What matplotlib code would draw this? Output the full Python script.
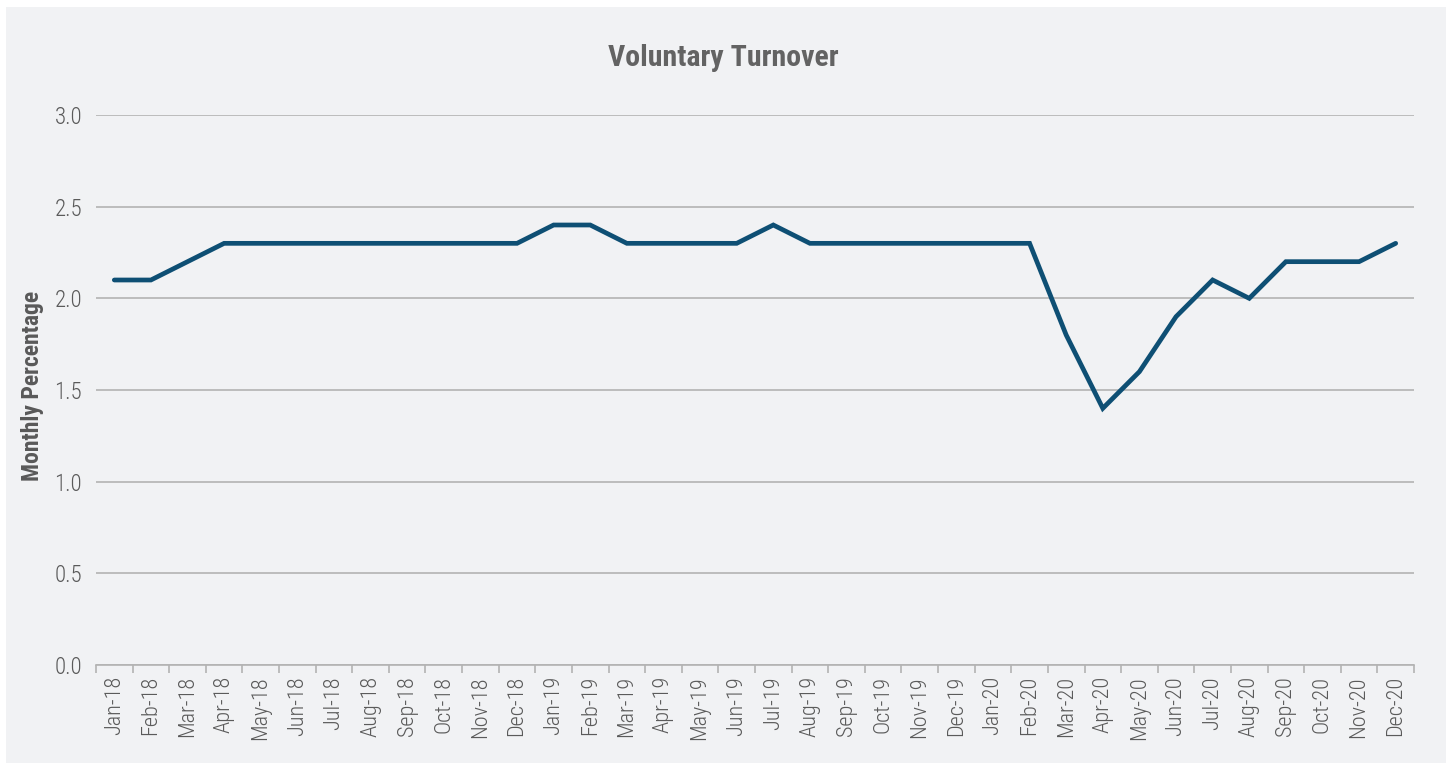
import matplotlib
matplotlib.use("Agg")
import matplotlib.pyplot as plt
from matplotlib.patches import Rectangle

months = ["Jan-18", "Feb-18", "Mar-18", "Apr-18", "May-18", "Jun-18", "Jul-18", "Aug-18",
          "Sep-18", "Oct-18", "Nov-18", "Dec-18",
          "Jan-19", "Feb-19", "Mar-19", "Apr-19", "May-19", "Jun-19", "Jul-19", "Aug-19",
          "Sep-19", "Oct-19", "Nov-19", "Dec-19",
          "Jan-20", "Feb-20", "Mar-20", "Apr-20", "May-20", "Jun-20", "Jul-20", "Aug-20",
          "Sep-20", "Oct-20", "Nov-20", "Dec-20"]
turnover = [2.1, 2.1, 2.2, 2.3, 2.3, 2.3, 2.3, 2.3, 2.3, 2.3, 2.3, 2.3,
            2.4, 2.4, 2.3, 2.3, 2.3, 2.3, 2.4, 2.3, 2.3, 2.3, 2.3, 2.3,
            2.3, 2.3, 1.8, 1.4, 1.6, 1.9, 2.1, 2.0, 2.2, 2.2, 2.2, 2.3]
yticks = [0.0, 0.5, 1.0, 1.5, 2.0, 2.5, 3.0]

plt.rcParams['font.family'] = ['Roboto Condensed', 'Roboto', 'DejaVu Sans']
W, H = 1449, 768
fig = plt.figure(figsize=(W / 100, H / 100), dpi=100, facecolor='white')
bg = '#f1f2f4'
fig.patches.append(Rectangle((6 / W, 5 / H), (1446 - 6) / W, (761 - 5) / H,
                             transform=fig.transFigure, facecolor=bg, edgecolor='none', zorder=-5))

ax = fig.add_axes([96 / W, 103 / H, (1414 - 96) / W, (665 - 115) / H])
ax.set_zorder(2)
ax.set_facecolor(bg)
x = list(range(len(months)))
ax.plot(x, turnover, color='#0e4f74', lw=3.4, solid_joinstyle='miter', solid_capstyle='round', zorder=3)

ax.set_xlim(-0.5, len(months) - 0.5)
ax.set_ylim(0, 3)
ax.set_yticks(yticks)
ax.set_yticklabels([f"{v:.1f}" for v in yticks], fontweight='light')
ax.grid(axis='y', color='#b3b3b3', lw=1.2, zorder=1)
ax.set_axisbelow(True)

ax.set_xticks(x)
ax.set_xticklabels(months, rotation=90, fontweight='light')
ax.set_xticks([i - 0.5 for i in range(len(months) + 1)], minor=True)
ax.tick_params(axis='x', which='major', length=0, pad=8, labelsize=16, labelcolor='#5a5a5a')
ax.tick_params(axis='x', which='minor', length=6, width=1.2, color='#b3b3b3')
ax.tick_params(axis='y', length=0, pad=10, labelsize=16.5, labelcolor='#5a5a5a')

for s in ['top', 'right', 'left']:
    ax.spines[s].set_visible(False)
ax.spines['bottom'].set_color('#b3b3b3')
ax.spines['bottom'].set_linewidth(1.2)

fig.text(723 / W, 1 - 58 / H, "Voluntary Turnover", ha='center', va='center',
         fontsize=21.5, fontweight='bold', color='#636363')
fig.text(33 / W, 1 - 386 / H, "Monthly Percentage", ha='center', va='center', rotation=90,
         fontsize=17, fontweight='bold', color='#595959')

fig.savefig("out.png", dpi=100, facecolor='white')
